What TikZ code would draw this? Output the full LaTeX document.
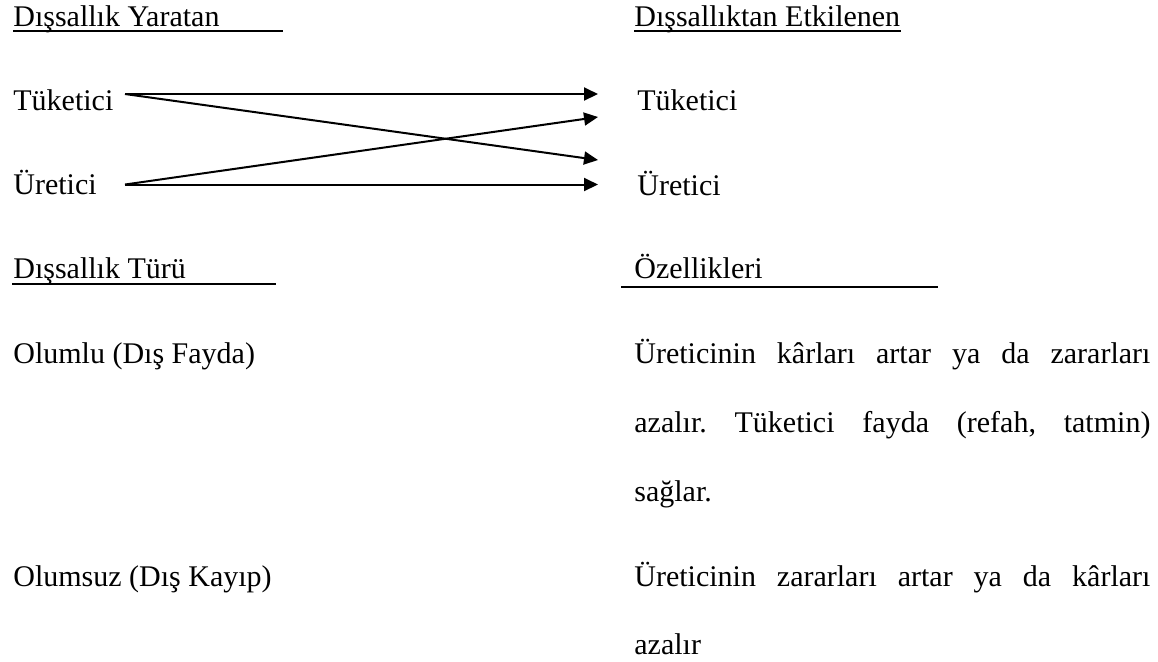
\documentclass[tikz,border=0pt]{standalone}
\usepackage{fontspec}
\setmainfont{Liberation Serif}
\usetikzlibrary{arrows.meta}
\newcommand\txtsize{\fontsize{15pt}{18pt}\selectfont}
\frenchspacing
\begin{document}
\begin{tikzpicture}[x=0.5pt,y=-0.5pt,
  lbl/.style={anchor=base west, inner sep=0pt, font=\txtsize},
  link/.style={line width=1pt, -{Triangle[length=7pt,width=6.5pt]}},
  rule/.style={line width=1pt}]
\useasboundingbox (0,0) rectangle (1158,661);

% column headings
\node[lbl] (h1) at (13,26) {Dışsallık Yaratan};
\node[lbl] (h2) at (634,26) {Dışsallıktan Etkilenen};
\draw[rule] (13,31) -- (283,31);
\draw[rule] (634,31) -- (h2.base east |- 0,31);

% sources and receivers
\node[lbl] (tl) at (13,110) {Tüketici};
\node[lbl] (ul) at (13,194) {Üretici};
\node[lbl] (tr) at (637,110) {Tüketici};
\node[lbl] (ur) at (637,195) {Üretici};

\coordinate (tl-o) at (125,94);
\coordinate (ul-o) at (125,184.5);
\coordinate (tr-a) at (598,94);
\coordinate (tr-b) at (598,117);
\coordinate (ur-a) at (598,160);
\coordinate (ur-b) at (598,184.5);

\draw[link] (tl-o) -- (tr-a);
\draw[link] (tl-o) -- (ur-a);
\draw[link] (ul-o) -- (tr-b);
\draw[link] (ul-o) -- (ur-b);

% second table
\node[lbl] (h3) at (13,278) {Dışsallık Türü};
\node[lbl] (h4) at (634,278) {Özellikleri};
\draw[rule] (12,284) -- (276,284);
\draw[rule] (621,287) -- (938,287);

\node[lbl] (pos) at (13,363) {Olumlu (Dış Fayda)};
\node[lbl] (neg) at (13,586) {Olumsuz (Dış Kayıp)};

\node[lbl] (p1a) at (634,363) {\makebox[258pt][s]{Üreticinin kârları artar ya da zararları}};
\node[lbl] (p1b) at (634,432) {\makebox[258pt][s]{azalır. Tüketici fayda (refah, tatmin)}};
\node[lbl] (p1c) at (634,501) {sağlar.};
\node[lbl] (p2a) at (634,586) {\makebox[258pt][s]{Üreticinin zararları artar ya da kârları}};
\node[lbl] (p2b) at (634,654) {azalır};
\end{tikzpicture}
\end{document}
